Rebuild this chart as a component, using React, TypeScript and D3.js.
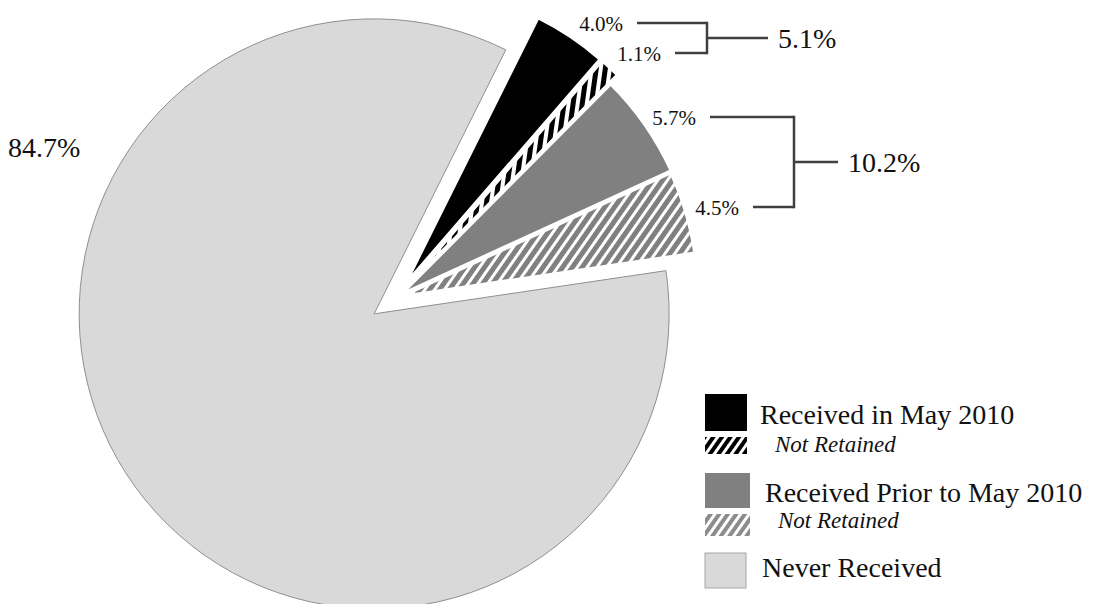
import React, { useEffect, useRef } from 'react';
import * as d3 from 'd3';

// slice data (percent of respondents)
const categories = [
  'Received in May 2010',
  'Not Retained (May 2010)',
  'Received Prior to May 2010',
  'Not Retained (Prior)',
  'Never Received',
];
const shares = [4.0, 1.1, 5.7, 4.5, 84.7];
const shareLabels = ['4.0%', '1.1%', '5.7%', '4.5%', '84.7%'];

// bracket totals
const groupLabels = ['5.1%', '10.2%'];

// legend rows
const legendLabels = ['Received in May 2010', 'Not Retained', 'Received Prior to May 2010', 'Not Retained', 'Never Received'];

const W = 1093;
const H = 604;
const FONT = "'Liberation Serif', 'Times New Roman', serif";

const fills = ['#000000', 'url(#hatchBlack)', '#808080', 'url(#hatchGrey)', '#d9d9d9'];
const explode = [19, 19, 8, 7, 27];

const App: React.FC = () => {
  const svgRef = useRef<SVGSVGElement>(null);

  useEffect(() => {
    if (!svgRef.current) return;
    document.body.style.margin = '0';

    const svg = d3.select(svgRef.current);
    svg.selectAll('*').remove();
    svg.attr('width', W).attr('height', H).style('background', '#fff');

    const defs = svg.append('defs');
    const hatch = (id: string, bg: string, fg: string, size: number, stripe: number, angle: number) => {
      const p = defs.append('pattern')
        .attr('id', id)
        .attr('patternUnits', 'userSpaceOnUse')
        .attr('width', size)
        .attr('height', size)
        .attr('patternTransform', `rotate(${angle})`);
      p.append('rect').attr('width', size).attr('height', size).attr('fill', bg);
      p.append('rect').attr('width', stripe).attr('height', size).attr('fill', fg);
    };
    hatch('hatchBlack', '#ffffff', '#000000', 9, 5, 8);
    hatch('hatchGrey', '#ffffff', '#808080', 8, 5, 35);
    hatch('legendBlack', '#ffffff', '#000000', 7, 4, 35);
    hatch('legendGrey', '#ffffff', '#8c8c8c', 7, 4, 35);

    // pie
    const cx = 396, cy = 298, R = 295;
    const start = (26.5 * Math.PI) / 180;
    const pie = d3.pie<number>().sort(null).value(d => d).startAngle(start).endAngle(start + 2 * Math.PI);
    const arcs = pie(shares);
    const arc = d3.arc<d3.PieArcDatum<number>>().innerRadius(0).outerRadius(R);

    const g = svg.append('g').attr('transform', `translate(${cx},${cy})`);
    const order = [4, 0, 1, 2, 3];
    g.selectAll('path.slice')
      .data(order.map(i => ({ a: arcs[i], i })))
      .enter()
      .append('path')
      .attr('class', 'slice')
      .attr('d', d => arc(d.a) as string)
      .attr('transform', d => {
        const mid = (d.a.startAngle + d.a.endAngle) / 2;
        const e = explode[d.i];
        return `translate(${Math.sin(mid) * e},${-Math.cos(mid) * e})`;
      })
      .attr('fill', d => fills[d.i])
      .attr('stroke', d => (d.i === 4 ? '#8f8f8f' : '#ffffff'))
      .attr('stroke-width', d => (d.i === 4 ? 1 : 2.5))
      .attr('stroke-linejoin', 'miter')
      .attr('stroke-miterlimit', 20);

    // percent labels on the small slices, with brackets
    const lineColor = '#404040';
    const brackets = [
      { rows: [0, 1], ys: [23, 53], x0: [637, 675], bx: 707, mx: 768, tx: 778 },
      { rows: [2, 3], ys: [117, 207], x0: [710, 753], bx: 794, mx: 838, tx: 848 },
    ];
    brackets.forEach((b, gi) => {
      b.rows.forEach((r, k) => {
        svg.append('text')
          .attr('x', b.x0[k] - 14)
          .attr('y', b.ys[k] + 8)
          .attr('text-anchor', 'end')
          .attr('font-family', FONT)
          .attr('font-size', 21)
          .attr('fill', '#111')
          .text(shareLabels[r]);
        svg.append('line')
          .attr('x1', b.x0[k]).attr('x2', b.bx)
          .attr('y1', b.ys[k]).attr('y2', b.ys[k])
          .attr('stroke', lineColor).attr('stroke-width', 2.5);
      });
      const my = (b.ys[0] + b.ys[1]) / 2;
      svg.append('line')
        .attr('x1', b.bx).attr('x2', b.bx)
        .attr('y1', b.ys[0] - 1.25).attr('y2', b.ys[1] + 1.25)
        .attr('stroke', lineColor).attr('stroke-width', 2.5);
      svg.append('line')
        .attr('x1', b.bx).attr('x2', b.mx)
        .attr('y1', my).attr('y2', my)
        .attr('stroke', lineColor).attr('stroke-width', 2.5);
      svg.append('text')
        .attr('x', b.tx)
        .attr('y', my + 10)
        .attr('font-family', FONT)
        .attr('font-size', 28)
        .attr('fill', '#111')
        .text(groupLabels[gi]);
    });

    svg.append('text')
      .attr('x', 8)
      .attr('y', 157)
      .attr('font-family', FONT)
      .attr('font-size', 28)
      .attr('fill', '#111')
      .text(shareLabels[4]);

    // legend
    const legendRows = [
      { y: 394, h: 37, w: 42, fill: '#000000', stroke: 'none', tx: 760, ty: 424, italic: false, fs: 28 },
      { y: 437, h: 17, w: 42, fill: 'url(#legendBlack)', stroke: 'none', tx: 775, ty: 452, italic: true, fs: 23 },
      { y: 473, h: 35, w: 45, fill: '#808080', stroke: 'none', tx: 765, ty: 502, italic: false, fs: 28 },
      { y: 514, h: 22, w: 45, fill: 'url(#legendGrey)', stroke: 'none', tx: 778, ty: 528, italic: true, fs: 23 },
      { y: 553, h: 35, w: 41, fill: '#d9d9d9', stroke: '#a6a6a6', tx: 762, ty: 577, italic: false, fs: 28 },
    ];
    const leg = svg.append('g');
    legendRows.forEach((r, i) => {
      leg.append('rect')
        .attr('x', 705).attr('y', r.y)
        .attr('width', r.w).attr('height', r.h)
        .attr('fill', r.fill)
        .attr('stroke', r.stroke);
      leg.append('text')
        .attr('x', r.tx).attr('y', r.ty)
        .attr('font-family', FONT)
        .attr('font-size', r.fs)
        .attr('font-style', r.italic ? 'italic' : 'normal')
        .attr('fill', '#111')
        .text(legendLabels[i]);
    });
    void categories;
  }, []);

  return <svg ref={svgRef} style={{ display: 'block' }}></svg>;
};

export default App;
